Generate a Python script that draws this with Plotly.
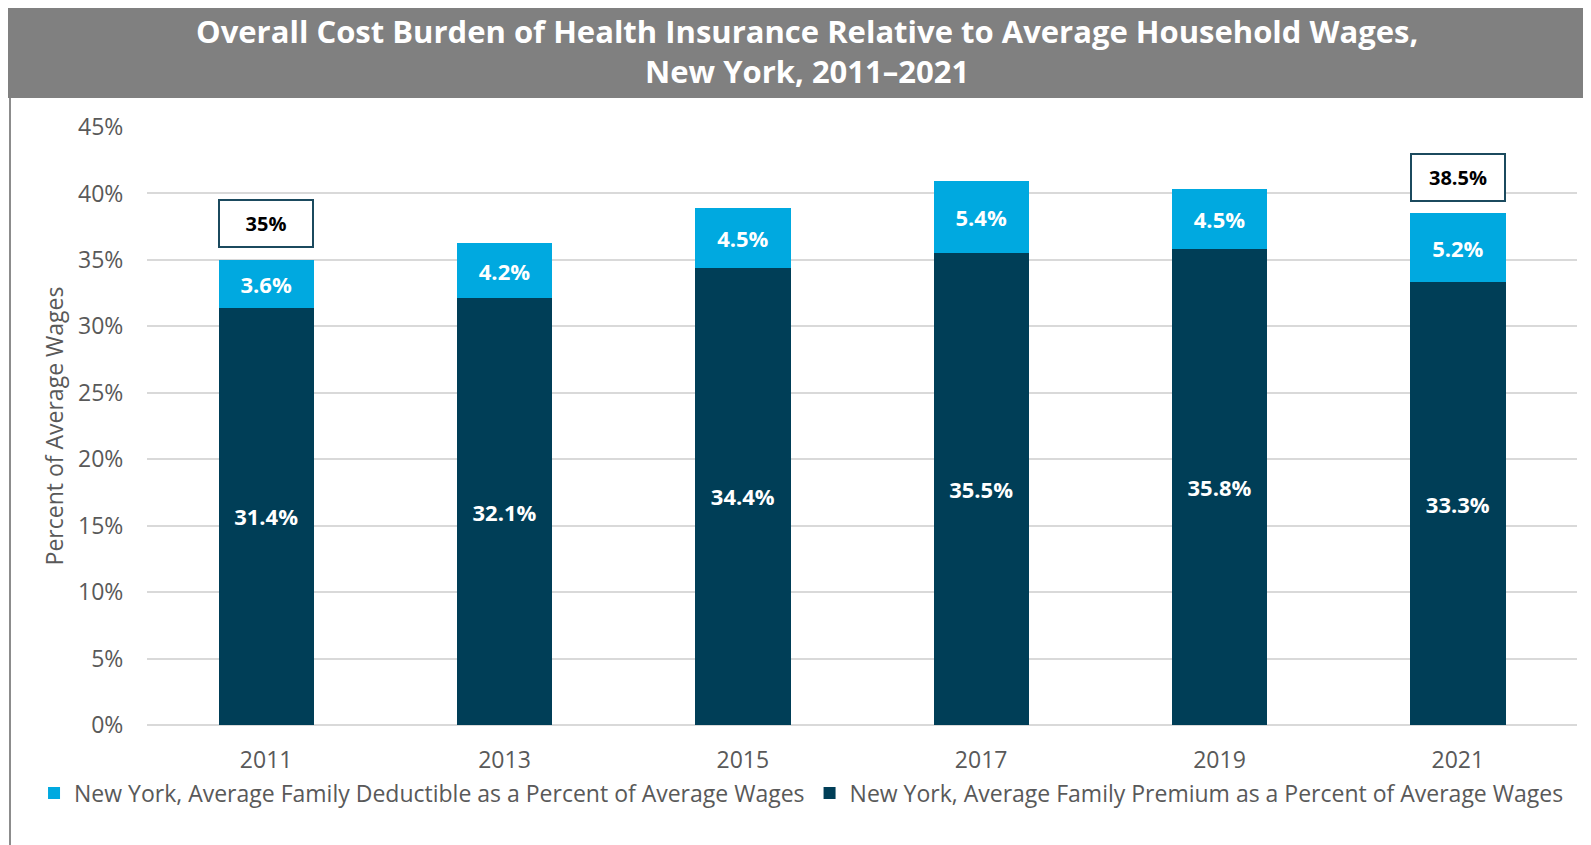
import plotly.graph_objects as go

# Data
years = ["2011", "2013", "2015", "2017", "2019", "2021"]
premium_pct = [31.4, 32.1, 34.4, 35.5, 35.8, 33.3]
deductible_pct = [3.6, 4.2, 4.5, 5.4, 4.5, 5.2]
boxed_years = ["2011", "2021"]

dark = "#003E57"
light = "#00A9E0"
grey_txt = "#595959"
font = "Open Sans"

fig = go.Figure()

fig.add_trace(go.Bar(
    x=years, y=premium_pct,
    name="New York, Average Family Premium as a Percent of Average Wages",
    marker=dict(color=dark, line=dict(width=0)),
    texttemplate="%{y:.1f}%", textposition="inside", insidetextanchor="middle",
    textangle=0, textfont=dict(color="white", size=22, family=font, weight="bold"),
))
fig.add_trace(go.Bar(
    x=years, y=deductible_pct,
    name="New York, Average Family Deductible as a Percent of Average Wages",
    marker=dict(color=light, line=dict(width=0)),
    texttemplate="%{y:.1f}%", textposition="inside", insidetextanchor="middle",
    textangle=0, textfont=dict(color="white", size=22, family=font, weight="bold"),
))

# boxed totals above selected bars (category index, since "2011" would read as a number)
for i, (yr, p, d) in enumerate(zip(years, premium_pct, deductible_pct)):
    if yr not in boxed_years:
        continue
    total = round(p + d, 1)
    fig.add_annotation(
        xref="x", yref="y", x=i, y=total, yshift=36, yanchor="middle",
        text=f"{total:g}%", showarrow=False,
        width=92, height=45, borderpad=0, borderwidth=2,
        bordercolor="#1B4A5E", bgcolor="white",
        font=dict(color="black", size=20, family=font, weight="bold"),
    )

# grey title band and left frame line
fig.add_shape(type="rect", xref="paper", yref="paper",
              x0=-0.098, x1=1.012, y0=1.0485, y1=1.22,
              fillcolor="#808080", line=dict(width=0), layer="below")
fig.add_shape(type="line", xref="paper", yref="paper",
              x0=-0.0958, x1=-0.0958, y0=1.0485, y1=-0.22,
              line=dict(color="#8C8C8C", width=2))

fig.add_annotation(
    xref="paper", yref="paper", x=0.4615, y=1.127, yanchor="middle",
    text="Overall Cost Burden of Health Insurance Relative to Average Household Wages,<br>New York, 2011\u20132021",
    showarrow=False, font=dict(color="white", size=31, family=font, weight="bold"),
)

fig.update_layout(
    width=1583, height=837,
    margin=dict(l=139, r=14, t=119, b=120),
    barmode="stack", bargap=0.6,
    plot_bgcolor="white", paper_bgcolor="white",
    font=dict(family=font, color=grey_txt),
    showlegend=True,
    legend=dict(orientation="h", traceorder="reversed",
                x=-0.079, xanchor="left", y=-0.1137, yanchor="middle",
                font=dict(size=23, color=grey_txt, family=font),
                itemwidth=30, bgcolor="rgba(0,0,0,0)"),
    xaxis=dict(type="category", categoryorder="array", categoryarray=years,
               range=[-0.5, len(years) - 0.5], autorange=False),
)
fig.update_yaxes(
    range=[0, 45], dtick=5, ticksuffix="%",
    showgrid=True, gridcolor="#D9D9D9", gridwidth=2,
    zeroline=True, zerolinecolor="#D9D9D9", zerolinewidth=2,
    ticks="outside", ticklen=18, tickcolor="rgba(0,0,0,0)",
    tickfont=dict(size=23, color=grey_txt),
    title=dict(text="Percent of Average Wages", font=dict(size=23, color=grey_txt), standoff=8),
    fixedrange=True,
)
fig.update_xaxes(
    showline=False, ticks="outside", ticklen=14, tickcolor="rgba(0,0,0,0)",
    tickfont=dict(size=23, color=grey_txt), fixedrange=True,
)

fig.write_html("out.html")
